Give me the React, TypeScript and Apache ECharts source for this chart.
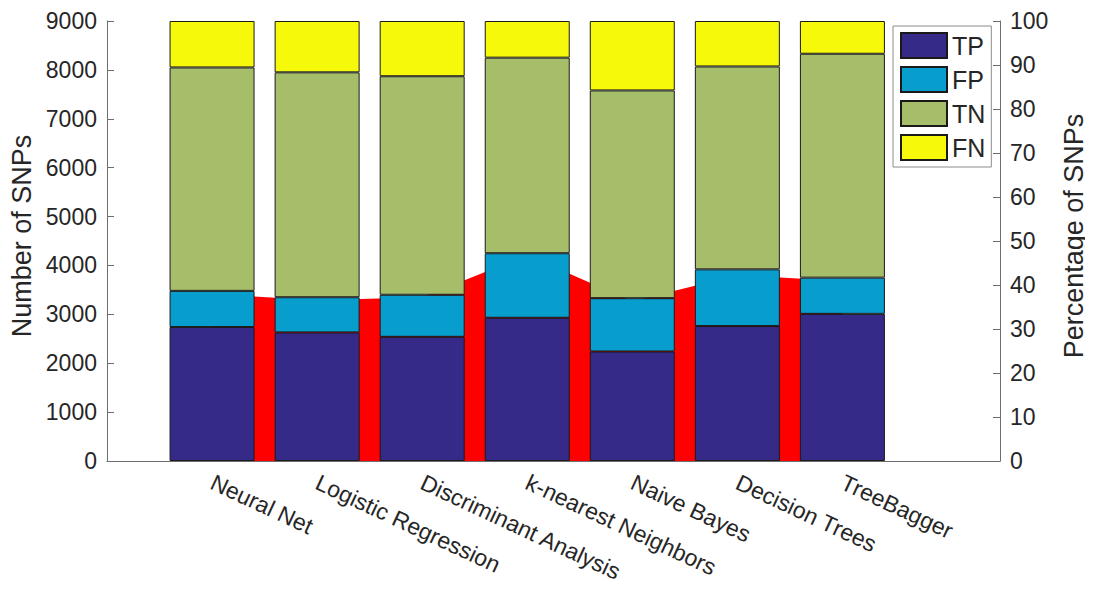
import React, { useEffect, useRef } from "react";
import * as echarts from "echarts";

// Classifier categories along the x axis
const methods = [
  "Neural Net",
  "Logistic Regression",
  "Discriminant Analysis",
  "k-nearest Neighbors",
  "Naive Bayes",
  "Decision Trees",
  "TreeBagger",
];

// Stacked counts per classifier (number of SNPs)
const tp = [2740, 2630, 2540, 2930, 2240, 2760, 3010];
const fp = [740, 720, 860, 1320, 1090, 1160, 740];
const tn = [4570, 4600, 4470, 4000, 4250, 4150, 4580];
const fn = [950, 1050, 1130, 750, 1420, 930, 670];

// Red filled area drawn behind the bars
const positiveArea = [3415, 3290, 3350, 4210, 3270, 3800, 3680];

const seriesNames = ["TP", "FP", "TN", "FN"];
const seriesColors = ["#352a87", "#079dcd", "#a6be6a", "#f7f90a"];

const FONT = "'Liberation Sans', Arial, sans-serif";
const AXIS_GREY = "#6e6e6e";
const TEXT = "#262626";

// Frame: x runs from 0 to 8.5 with one category per unit
const X_MIN = 0;
const X_MAX = 8.5;
const FRAME_LEFT = 107;
const FRAME_RIGHT = 1000;
const PLOT_TOP = 21;
const PLOT_BOTTOM = 461;

export default function App() {
  const ref = useRef<HTMLDivElement>(null);

  useEffect(() => {
    if (!ref.current) return;
    const chart = echarts.init(ref.current, null, { renderer: "svg" });

    const unit = (FRAME_RIGHT - FRAME_LEFT) / (X_MAX - X_MIN);
    const barsLeft = FRAME_LEFT + (0.5 - X_MIN) * unit;
    const barsRight = barsLeft + methods.length * unit;

    const stacks = [tp, fp, tn, fn];
    const midY = (PLOT_TOP + PLOT_BOTTOM) / 2 - 5;

    chart.setOption({
      animation: false,
      backgroundColor: "#ffffff",
      textStyle: { fontFamily: FONT },
      grid: [
        { left: FRAME_LEFT, right: 1093 - FRAME_RIGHT, top: PLOT_TOP, bottom: 590 - PLOT_BOTTOM },
        { left: barsLeft, right: 1093 - barsRight, top: PLOT_TOP, bottom: 590 - PLOT_BOTTOM },
      ],
      legend: {
        data: seriesNames,
        orient: "vertical",
        left: 893,
        top: 26,
        itemWidth: 46,
        itemHeight: 25,
        itemGap: 7,
        padding: [6, 6, 6, 7],
        backgroundColor: "#ffffff",
        borderColor: "#8c8c8c",
        borderWidth: 1,
        icon: "rect",
        textStyle: { fontSize: 25, color: TEXT, fontFamily: FONT, lineHeight: 25 },
        z: 10,
      },
      xAxis: [
        {
          type: "value",
          gridIndex: 0,
          min: X_MIN,
          max: X_MAX,
          splitLine: { show: false },
          axisTick: { show: false },
          axisLabel: { show: false },
          axisLine: { show: true, lineStyle: { color: AXIS_GREY, width: 1 } },
        },
        {
          type: "category",
          gridIndex: 1,
          data: methods,
          boundaryGap: true,
          axisLine: { show: false },
          axisTick: { show: false },
          splitLine: { show: false },
          axisLabel: {
            rotate: -25,
            fontSize: 23,
            color: TEXT,
            fontFamily: FONT,
            margin: 20,
            interval: 0,
          },
        },
      ],
      yAxis: [
        {
          type: "value",
          gridIndex: 0,
          min: 0,
          max: 9000,
          interval: 1000,
          position: "left",
          splitLine: { show: false },
          axisLine: { show: true, lineStyle: { color: AXIS_GREY, width: 1 } },
          axisTick: { show: true, inside: true, length: 7, lineStyle: { color: AXIS_GREY } },
          axisLabel: {
            fontSize: 23,
            color: TEXT,
            fontFamily: FONT,
            margin: 10,
            formatter: (v: number) => String(v),
          },
        },
        {
          type: "value",
          gridIndex: 0,
          min: 0,
          max: 100,
          interval: 10,
          position: "right",
          splitLine: { show: false },
          axisLine: { show: true, lineStyle: { color: AXIS_GREY, width: 1 } },
          axisTick: { show: true, inside: true, length: 7, lineStyle: { color: AXIS_GREY } },
          axisLabel: {
            fontSize: 23,
            color: TEXT,
            fontFamily: FONT,
            margin: 10,
            formatter: (v: number) => String(v),
          },
        },
        {
          type: "value",
          gridIndex: 1,
          min: 0,
          max: 9000,
          show: false,
        },
      ],
      graphic: [
        {
          type: "text",
          x: 22,
          y: midY,
          rotation: Math.PI / 2,
          style: {
            text: "Number of SNPs",
            fontSize: 27,
            fontFamily: FONT,
            fill: TEXT,
            align: "center",
            verticalAlign: "middle",
          },
        },
        {
          type: "text",
          x: 1074,
          y: midY,
          rotation: Math.PI / 2,
          style: {
            text: "Percentage of SNPs",
            fontSize: 27,
            fontFamily: FONT,
            fill: TEXT,
            align: "center",
            verticalAlign: "middle",
          },
        },
      ],
      series: [
        {
          name: "area",
          type: "line",
          xAxisIndex: 1,
          yAxisIndex: 2,
          data: positiveArea,
          symbol: "none",
          lineStyle: { width: 0, color: "#ff0000" },
          areaStyle: { color: "#ff0000", opacity: 1 },
          z: 1,
          silent: true,
        },
        ...stacks.map((vals, i) => ({
          name: seriesNames[i],
          type: "bar",
          xAxisIndex: 1,
          yAxisIndex: 2,
          stack: "total",
          barWidth: 85,
          data: vals,
          itemStyle: {
            color: seriesColors[i],
            borderColor: "#1a1a1a",
            borderWidth: 1,
          },
          z: 3,
        })),
      ],
    });

    return () => chart.dispose();
  }, []);

  return <div ref={ref} style={{ width: 1093, height: 590, margin: -8 }} />;
}
